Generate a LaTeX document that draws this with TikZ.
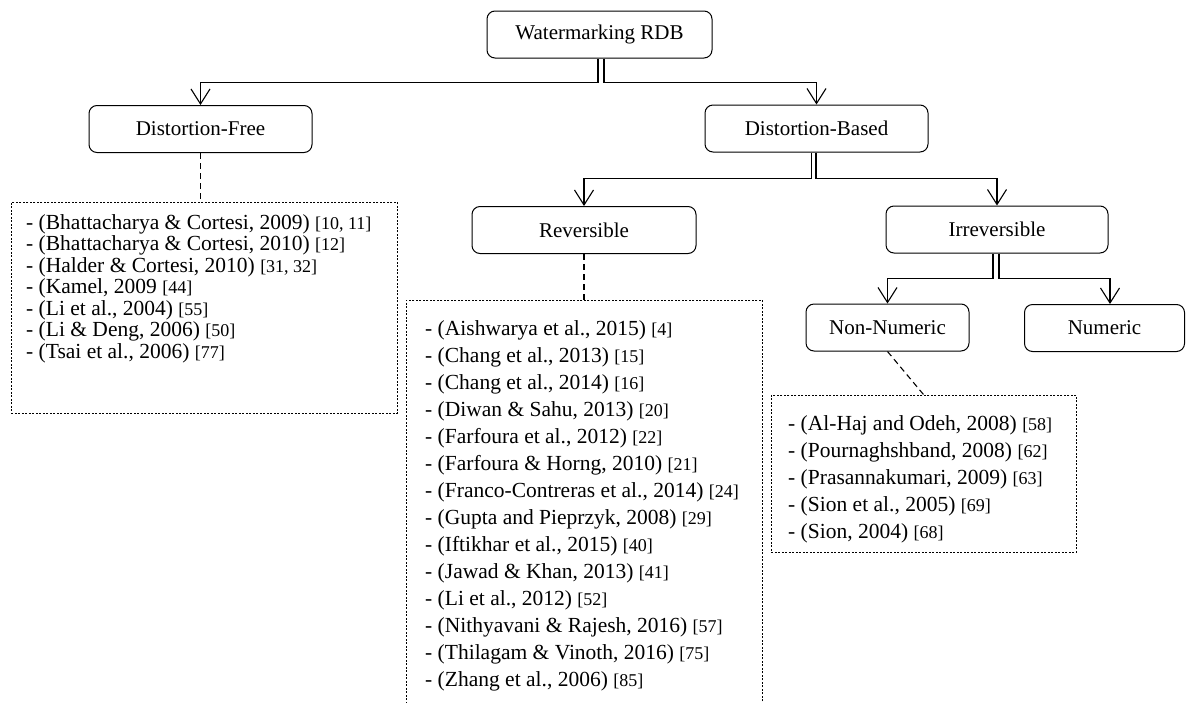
\documentclass[tikz,border=0pt]{standalone}
\usepackage{fontspec}
\setmainfont{Liberation Serif}
\usetikzlibrary{arrows.meta}
\newcommand\refno[1]{{\fontsize{18}{18}\selectfont #1}}
\begin{document}
\begin{tikzpicture}[x=1pt,y=-1pt,
  box/.style={draw, rounded corners=8pt, line width=1pt, minimum height=47pt, inner sep=0pt, font=\fontsize{21}{25}\selectfont},
  conn/.style={line width=1.1pt, -{Straight Barb[length=15pt,width=19pt,line width=1.1pt]}},
  lead/.style={line width=1.1pt, dash pattern=on 6pt off 4pt},
  listbox/.style={draw, line width=0.8pt, dash pattern=on 2pt off 1.5pt, inner sep=0pt, anchor=north west},
  dftext/.style={anchor=north west, inner sep=0pt, align=left, font=\fontsize{21.5}{21.5}\selectfont},
  listtext/.style={anchor=north west, inner sep=0pt, align=left, font=\fontsize{21.5}{27}\selectfont},
]
\useasboundingbox (0,0) rectangle (1186,702);
\clip (0,0) rectangle (1186,702);

% boxes
\node[box, minimum width=225pt] (root) at (599.5,34.5) {Watermarking RDB};
\node[box, minimum width=223pt] (df) at (200.5,129) {Distortion-Free};
\node[box, minimum width=223pt] (db) at (816.5,128.5) {Distortion-Based};
\node[box, minimum width=224pt] (rev) at (584,230) {Reversible};
\node[box, minimum width=222pt] (irr) at (997,229.5) {Irreversible};
\node[box, minimum width=163pt] (nn) at (887.5,327.5) {Non-Numeric};
\node[box, minimum width=160pt] (num) at (1104.5,328) {Numeric};

% list boxes
\node[listbox, minimum width=386pt, minimum height=211pt] (dflist) at (11,202) {};
\node[listbox, minimum width=356pt, minimum height=430pt] (revlist) at (406,300) {};
\node[listbox, minimum width=305pt, minimum height=157pt] (nnlist) at (771,395) {};

% list texts
\node[dftext] (dfitems) at (26,214) {%
- (Bhattacharya \& Cortesi, 2009) \refno{[10, 11]}\\
- (Bhattacharya \& Cortesi, 2010) \refno{[12]}\\
- (Halder \& Cortesi, 2010) \refno{[31, 32]}\\
- (Kamel, 2009 \refno{[44]}\\
- (Li et al., 2004) \refno{[55]}\\
- (Li \& Deng, 2006) \refno{[50]}\\
- (Tsai et al., 2006) \refno{[77]}};

\node[listtext] (revitems) at (425,320) {%
- (Aishwarya et al., 2015) \refno{[4]}\\
- (Chang et al., 2013) \refno{[15]}\\
- (Chang et al., 2014) \refno{[16]}\\
- (Diwan \& Sahu, 2013) \refno{[20]}\\
- (Farfoura et al., 2012) \refno{[22]}\\
- (Farfoura \& Horng, 2010) \refno{[21]}\\
- (Franco-Contreras et al., 2014) \refno{[24]}\\
- (Gupta and Pieprzyk, 2008) \refno{[29]}\\
- (Iftikhar et al., 2015) \refno{[40]}\\
- (Jawad \& Khan, 2013) \refno{[41]}\\
- (Li et al., 2012) \refno{[52]}\\
- (Nithyavani \& Rajesh, 2016) \refno{[57]}\\
- (Thilagam \& Vinoth, 2016) \refno{[75]}\\
- (Zhang et al., 2006) \refno{[85]}};

\node[listtext] (nnitems) at (788,415) {%
- (Al-Haj and Odeh, 2008) \refno{[58]}\\
- (Pournaghshband, 2008) \refno{[62]}\\
- (Prasannakumari, 2009) \refno{[63]}\\
- (Sion et al., 2005) \refno{[69]}\\
- (Sion, 2004) \refno{[68]}};

% connectors
\draw[conn] ([xshift=-1.5pt]root.south) -- ++(0,24) -| (df.north);
\draw[conn] ([xshift=4.5pt]root.south) -- ++(0,24) -| (db.north);
\draw[conn] ([xshift=-5pt]db.south) -- ++(0,26) -| (rev.north);
\draw[conn] ([xshift=-0.5pt]db.south) -- ++(0,26) -| (irr.north);
\draw[conn] ([xshift=-4pt]irr.south) -- ++(0,25) -| (nn.north);
\draw[conn] ([xshift=2pt]irr.south) -- ++(0,25) -| ([xshift=5.5pt]num.north);

% dashed leads
\draw[lead] (df.south) -- (df.south |- dflist.north);
\draw[lead] (rev.south) -- (rev.south |- revlist.north);
\draw[lead] (nn.south) -- (nnlist.north);
\end{tikzpicture}
\end{document}
